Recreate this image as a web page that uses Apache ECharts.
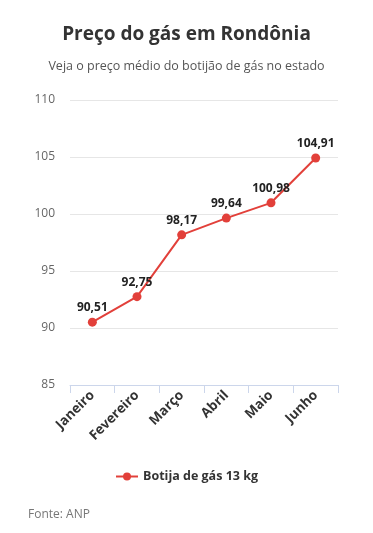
<!DOCTYPE html>
<html><head><meta charset="utf-8">
<script src="https://cdn.jsdelivr.net/npm/echarts@6/dist/echarts.min.js"></script>
<style>html,body{margin:0;padding:0;background:#fff}#c{width:373px;height:533px}</style>
</head><body><div id="c"></div>
<script>
const months = ["Janeiro","Fevereiro","Março","Abril","Maio","Junho"];
const prices = [90.51, 92.75, 98.17, 99.64, 100.98, 104.91];
const yTicks = [85, 90, 95, 100, 105, 110];
const seriesName = "Botija de gás 13 kg";
const FONT = "'Open Sans', 'Noto Sans', sans-serif";
const chart = echarts.init(document.getElementById('c'), null, {renderer:'canvas'});
chart.setOption({
  animation:false,
  textStyle:{fontFamily:FONT},
  title:[
    {text:"Preço do gás em Rondônia", left:'center', top:20,
     textStyle:{fontFamily:FONT, fontSize:19, fontWeight:'bold', color:'#333'}},
    {text:"Veja o preço médio do botijão de gás no estado", left:'center', top:55,
     textStyle:{fontFamily:FONT, fontSize:12.5, fontWeight:'normal', color:'#555'}},
    {text:"Fonte: ANP", left:23, top:504,
     textStyle:{fontFamily:FONT, fontSize:12, fontWeight:'normal', color:'#777'}}
  ],
  legend:{top:465, left:'center', itemWidth:22, itemHeight:10,
    textStyle:{fontFamily:FONT, fontSize:12.5, fontWeight:'bold', color:'#333'},
    data:[seriesName]},
  grid:{left:70, right:35, top:100, bottom:148, containLabel:false},
  xAxis:{type:'category', data:months, boundaryGap:true,
    axisLine:{lineStyle:{color:'#ccd6eb'}},
    axisTick:{show:true, alignWithLabel:false, length:8, lineStyle:{color:'#ccd6eb'}},
    axisLabel:{rotate:45, margin:8, fontFamily:FONT, fontSize:13.5, fontWeight:'bold', color:'#333'}},
  yAxis:{type:'value', min:yTicks[0], max:yTicks[yTicks.length-1], interval:5,
    axisLine:{show:false}, axisTick:{show:false},
    splitLine:{lineStyle:{color:'#e6e6e6'}},
    axisLabel:{margin:15, fontFamily:FONT, fontSize:12, color:'#666'}},
  series:[{
    name:seriesName, type:'line', data:prices,
    symbol:'circle', symbolSize:9,
    itemStyle:{color:'#e2403a'}, lineStyle:{color:'#e2403a', width:2},
    label:{show:true, position:'top', distance:4, fontFamily:FONT, fontSize:12, fontWeight:'bold', color:'#222',
      formatter:p=>p.value.toFixed(2).replace('.',',')}
  }]
});
</script></body></html>
